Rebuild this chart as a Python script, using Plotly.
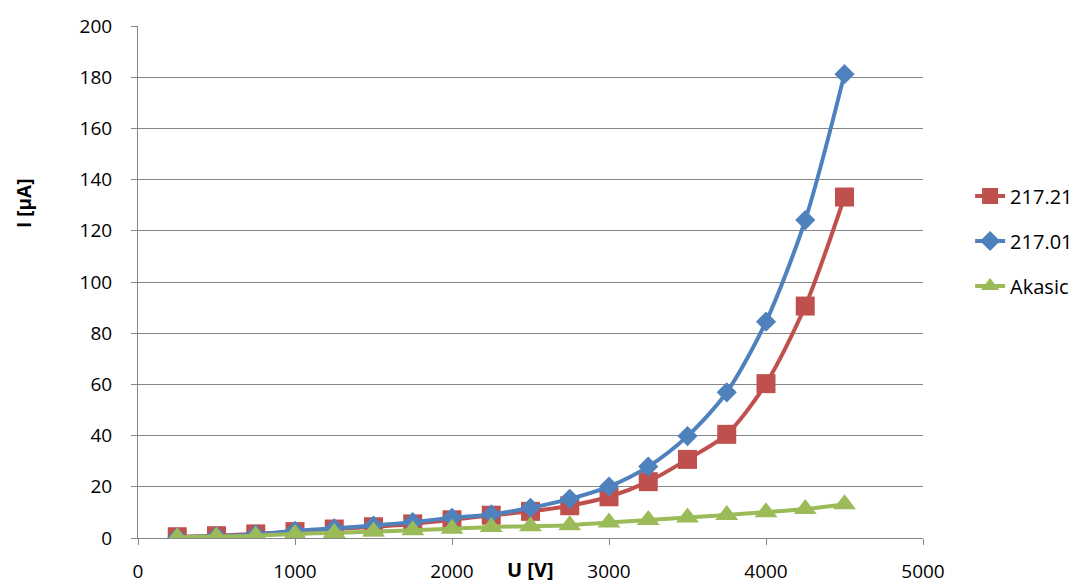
import plotly.graph_objects as go

# Applied voltage [V]
voltage = [250, 500, 750, 1000, 1250, 1500, 1750, 2000, 2250, 2500, 2750,
           3000, 3250, 3500, 3750, 4000, 4250, 4500]

# Measured current [µA] for each tube
i_21721 = [0.5, 0.9, 1.6, 2.5, 3.5, 4.4, 5.5, 7.1, 8.9, 10.4, 12.6,
           16.1, 22.0, 30.7, 40.5, 60.3, 90.6, 133.2]
i_21701 = [0.3, 0.8, 1.4, 2.8, 3.8, 4.9, 6.2, 7.9, 9.2, 11.8, 15.3,
           20.1, 27.9, 39.8, 56.9, 84.5, 124.2, 181.2]
i_akasic = [0.3, 0.6, 0.9, 1.6, 2.0, 2.5, 3.0, 3.6, 4.3, 4.6, 5.0,
            6.1, 7.0, 8.0, 9.0, 10.1, 11.3, 13.2]

series = [
    ("217.21", i_21721, "#C0504D", "square", 19),
    ("217.01", i_21701, "#4F81BD", "diamond", 15.5),
    ("Akasic", i_akasic, "#9BBB59", "triangle-up", 20),
]

FONT = "Open Sans, Liberation Sans, sans-serif"

fig = go.Figure()
for name, vals, color, sym, size in series:
    fig.add_trace(go.Scatter(
        x=voltage, y=vals, name=name, legendgroup=name,
        mode="lines+markers",
        line=dict(color=color, width=4, shape="spline", smoothing=0.8),
        marker=dict(symbol=sym, size=size, color=color),
    ))

fig.update_layout(
    width=1083, height=585,
    margin=dict(l=138, r=160, t=26, b=47, autoexpand=False),
    plot_bgcolor="white", paper_bgcolor="white",
    font=dict(family=FONT, size=19, color="black"),
    showlegend=True,
    legend=dict(
        x=1.06, y=0.58, xanchor="left", yanchor="middle",
        traceorder="grouped", tracegroupgap=16,
        font=dict(family=FONT, size=20, color="black"),
    ),
    xaxis=dict(
        range=[0, 5000], tickvals=[0, 1000, 2000, 3000, 4000, 5000],
        showgrid=False, zeroline=False, automargin=False,
        showline=True, linecolor="#868686", linewidth=1,
        ticks="outside", ticklen=6, tickcolor="#868686",
        tickfont=dict(size=19), ticklabelstandoff=10,
    ),
    yaxis=dict(
        range=[0, 200], tickvals=list(range(0, 201, 20)),
        showgrid=True, gridcolor="#868686", gridwidth=1,
        zeroline=False, automargin=False,
        showline=True, linecolor="#868686", linewidth=1,
        ticks="outside", ticklen=6, tickcolor="#868686",
        tickfont=dict(size=19), ticklabelstandoff=15,
    ),
    annotations=[
        dict(text="<b>U [V]</b>", xref="paper", yref="paper",
             x=(530 - 138) / 785, y=-(569 - 538) / 512,
             xanchor="center", yanchor="middle", showarrow=False,
             font=dict(family=FONT, size=20)),
        dict(text="<b>I [µA]</b>", xref="paper", yref="paper",
             x=-(138 - 24) / 785, y=(538 - 204) / 512, textangle=-90,
             xanchor="center", yanchor="middle", showarrow=False,
             font=dict(family=FONT, size=19)),
    ],
)

fig.write_html("out.html")
